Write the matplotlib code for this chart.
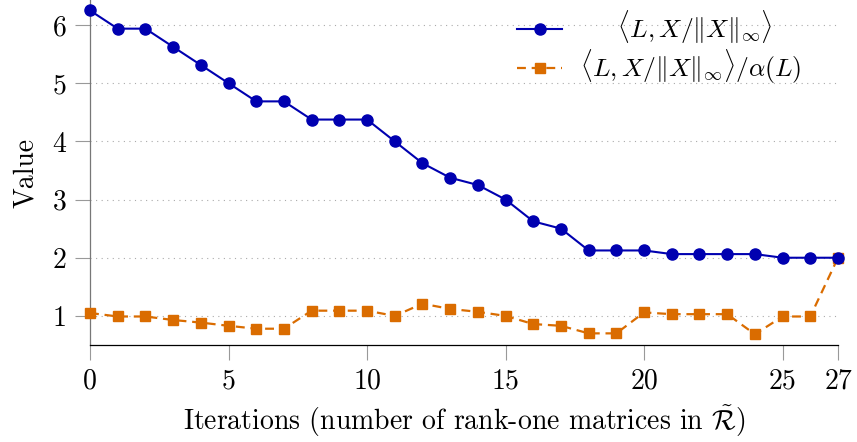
import matplotlib
matplotlib.use("Agg")
import matplotlib.pyplot as plt

plt.rcParams['font.family'] = ['cmr10', 'DejaVu Serif']
plt.rcParams['mathtext.fontset'] = 'cm'
plt.rcParams['axes.formatter.use_mathtext'] = True

iterations = list(range(28))
inner = [6.25, 5.9375, 5.9375, 5.625, 5.3125, 5.0, 4.6875, 4.6875, 4.375, 4.375,
         4.375, 4.0, 3.625, 3.375, 3.25, 3.0, 2.625, 2.5, 2.125, 2.125,
         2.125, 2.0625, 2.0625, 2.0625, 2.0625, 2.0, 2.0, 2.0]
ratio = [1.05, 0.99, 0.99, 0.93, 0.885, 0.83, 0.78, 0.78, 1.09, 1.09,
         1.09, 1.0, 1.21, 1.12, 1.07, 1.0, 0.86, 0.83, 0.70, 0.70,
         1.06, 1.03, 1.03, 1.03, 0.685, 0.99, 0.99, 2.0]
xticks = [0, 5, 10, 15, 20, 25, 27]
yticks = [1, 2, 3, 4, 5, 6]
label_inner = r'$\langle L, X/\|X\|_\infty\rangle$'
label_ratio = r'$\langle L, X/\|X\|_\infty\rangle/\alpha(L)$'

blue = '#0000B0'
orange = '#DA6C00'
FS = 20

fig = plt.figure(figsize=(8.57, 4.42), dpi=100)
ax = fig.add_axes([90/857, 1-345/442, (838-90)/857, 345/442])

ax.plot(iterations, inner, color=blue, lw=1.5, marker='o', ms=8,
        label=r'$\ \ \ \ \ $' + label_inner, zorder=4, clip_on=False)
ax.plot(iterations, ratio, color=orange, lw=1.6, ls=(0, (4, 2.6)), marker='s', ms=6.5,
        label=label_ratio, zorder=3, clip_on=False)

ax.set_xlim(0, 27)
ax.set_ylim(0.5, 6.43)
ax.set_xticks(xticks)
ax.set_yticks(yticks)
ax.set_xticklabels([str(v) for v in xticks])
ax.set_yticklabels([str(v) for v in yticks])
ax.tick_params(axis='both', direction='out', length=11, width=0.8, color='#999999',
               labelsize=FS, pad=6)
ax.yaxis.grid(True, ls=(0, (1, 4)), color='#aaaaaa', lw=0.8)
ax.set_axisbelow(True)

for s in ['top', 'right']:
    ax.spines[s].set_visible(False)
ax.spines['left'].set_color('#777777')
ax.spines['bottom'].set_color('black')
ax.spines['left'].set_linewidth(0.9)
ax.spines['bottom'].set_linewidth(0.9)

ax.set_xlabel(r'Iterations (number of rank-one matrices in $\tilde{\mathcal{R}}$)',
              fontsize=FS, labelpad=6)
ax.set_ylabel('Value', fontsize=FS, labelpad=10)

leg = ax.legend(loc='upper right', bbox_to_anchor=(0.965, 1.005), frameon=False,
                fontsize=18.5, handlelength=1.75, handletextpad=0.7, labelspacing=0.1,
                borderaxespad=0.0)

fig.savefig('out.png', dpi=100)
